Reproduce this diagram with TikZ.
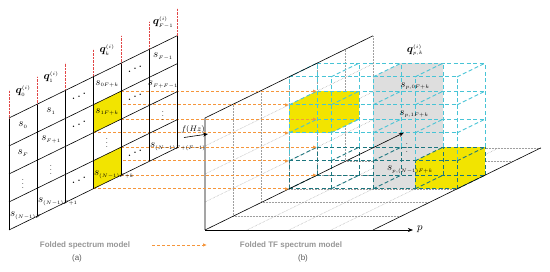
\documentclass[tikz,border=0pt]{standalone}
\usepackage{amsmath}
\usepackage{bm}
\usepackage{fontspec}
\newfontfamily\legfont{Liberation Sans}
\usetikzlibrary{arrows.meta}
\DeclareMathSizes{9}{10.5}{5.2}{4}
\definecolor{latcyan}{RGB}{72,196,214}
\definecolor{latteal}{RGB}{28,118,126}
\definecolor{celly}{RGB}{242,228,0}
\definecolor{boxgray}{RGB}{222,222,222}
\definecolor{foldorange}{RGB}{245,150,60}
\definecolor{leggray}{RGB}{150,150,150}
\definecolor{qred}{RGB}{225,70,70}
\newcommand{\updots}{\textbf{.}\kern2.5pt\raisebox{2.5pt}{\textbf{.}}\kern2.5pt\raisebox{5pt}{\textbf{.}}}
\begin{document}
\begin{tikzpicture}[x=1pt,y=-1pt,
  cellnode/.style={font=\fontsize{9}{10}\selectfont, inner sep=0pt},
  wallline/.style={gray!75, densely dotted, line width=0.5pt},
  latline/.style={latcyan, line width=0.9pt, dash pattern=on 4pt off 2.5pt},
  latdark/.style={latline, latteal},
  foldarrow/.style={foldorange, line width=0.9pt, dash pattern=on 3pt off 2pt, -{Latex[length=4pt,width=3.5pt]}},
  legtext/.style={font=\legfont\bfseries\fontsize{8}{9}\selectfont, text=leggray},
  captext/.style={font=\legfont\fontsize{8}{9}\selectfont, text=black!65}]
\useasboundingbox (0,0) rectangle (550,272);

% corners of the yellow cells in (a) and of the lattice in (b)
\foreach \c in {3,4} \foreach \r in {1,...,4}
  \coordinate (a-\c-\r) at ({9+28*\c},{118-13.7*\c+28*\r});
\foreach \d in {3,4} \foreach \f in {0,...,4}
  \coordinate (b-\f-\d) at ({205+28*\d},{230-13.7*\d-28*\f});

% TF spectrum (b): p to the right, f up, column index into depth
\begin{scope}[shift={(205,230)},x={(42pt,0pt)},y={(0pt,28pt)},z={(28pt,13.7pt)}]
  \coordinate (O) at (0,0,0);
  % wall and floor
  \foreach \d in {1,...,6} \draw[wallline] (0,0,\d) -- (0,4,\d);
  \foreach \f in {1,2,3} \draw[wallline] (0,\f,0) -- (0,\f,6);
  \foreach \d in {1,...,6} \draw[wallline] (0,0,\d) -- (4,0,\d);
  \foreach \p in {1,2,3} \draw[wallline] (\p,0,0) -- (\p,0,6);
  % gray column and yellow boxes
  \fill[boxgray] (2,0,3) -- (2,4,3) -- (2,4,4) -- (3,4,4) -- (3,0,4) -- (3,0,3) -- cycle;
  \fill[celly] (0,2,3) -- (0,3,3) -- (0,3,4) -- (1,3,4) -- (1,2,4) -- (1,2,3) -- cycle;
  \fill[celly] (3,0,3) -- (3,1,3) -- (3,1,4) -- (4,1,4) -- (4,0,4) -- (4,0,3) -- cycle;
  % lattice
  \foreach \d in {3,4} {
    \foreach \f in {0,1} \draw[latdark] (0,\f,\d) -- (4,\f,\d);
    \foreach \f in {2,3,4} \draw[latline] (0,\f,\d) -- (4,\f,\d);
    \foreach \p in {0,...,4} {
      \draw[latdark] (\p,0,\d) -- (\p,1,\d);
      \draw[latline] (\p,1,\d) -- (\p,4,\d);
    }
  }
  \foreach \p in {0,...,4} {
    \foreach \f in {0,1} \draw[latdark] (\p,\f,3) -- (\p,\f,4);
    \foreach \f in {2,3,4} \draw[latline] (\p,\f,3) -- (\p,\f,4);
  }
  % axes
  \draw[line width=0.6pt] (O) -- (0,4,0) -- (0,4,6);
  \draw[line width=0.6pt] (4,0,0) -- (4,0,6);
  \draw[line width=0.6pt, -{Stealth[length=5pt,width=4pt]}] (O) -- (4.95,0,0) coordinate (pend);
  \draw[line width=0.6pt, -{Stealth[length=5pt,width=4pt]}] (O) -- (0,0,7.1) coordinate (dend);
\end{scope}

% folding arrows
\foreach \c in {3,4} \foreach \r/\f in {1/3,2/2,3/1,4/0}
  \draw[foldarrow] (a-\c-\r) -- (b-\f-\c);

% folded spectrum (a): columns to the right, rows down
\begin{scope}[shift={(9,118)},x={(28pt,13.7pt)},y={(0pt,-28pt)}]
  \fill[celly] (3,1) -- (4,1) -- (4,2) -- (3,2) -- cycle;
  \fill[celly] (3,3) -- (4,3) -- (4,4) -- (3,4) -- cycle;
  \foreach \c in {0,...,6} {
    \draw[line width=0.6pt] (\c,0) -- (\c,4);
    \draw[qred, densely dotted] (\c,0) -- (\c,-1);
  }
  \foreach \r in {0,...,4} \draw[line width=0.6pt] (0,\r) -- (6,\r);
  \foreach \c/\t in {0/0,1/1,3/k,5/{F-1}}
    \node[cellnode] (q-\c) at (\c+0.5,-0.72) {$\bm{q}_{\t}^{(i)}$};
  \foreach \c/\r/\t in {0/0/{s_0},1/0/{s_1},3/0/{s_{0F+k}},5/0/{s_{F-1}},
      0/1/{s_F},1/1/{s_{F+1}},3/1/{s_{1F+k}},5/1/{s_{F+F-1}},
      0/2/{\vdots},1/2/{\vdots},3/2/{\vdots},5/2/{\vdots}}
    \node[cellnode] (cell-\c-\r) at (\c+0.5,\r+0.5) {$\t$};
  \foreach \c/\t in {0/{s_{(N-1)F}},1/{s_{(N-1)F+1}},3/{s_{(N-1)F+k}},5/{s_{(N-1)F+(F-1)}}}
    \node[cellnode, anchor=west] (cell-\c-3) at (\c+0.03,3.5) {$\t$};
  \foreach \c in {2,4} \foreach \r in {0,1,3}
    \node[cellnode] (dots-\c-\r) at (\c+0.5,\r+0.45) {\updots};
\end{scope}

% labels of (b)
\node[cellnode] (qpk) at (415,50) {$\bm{q}_{p,k}^{(i)}$};
\node[cellnode] (sp0) at (415,86) {$s_{p,0F+k}$};
\node[cellnode] (sp1) at (414,114) {$s_{p,1F+k}$};
\node[cellnode] (spv) at (407,145) {$\vdots$};
\node[cellnode] (spN) at (410,170) {$s_{p,(N-1)F+k}$};
\node[cellnode, anchor=west] (plabel) at (417,229) {$p$};
\coordinate (fa) at (184,137.5);
\coordinate (fb) at (208,134);
\draw[line width=0.6pt, -{Stealth[length=5pt,width=4pt]}] (fa) -- (fb);
\node[font=\fontsize{8}{9}\selectfont, inner sep=0pt] (flabel) at (193,129.5) {$f(Hz)$};

% legend
\coordinate (legA) at (152,245);
\coordinate (legB) at (207,245);
\draw[foldarrow] (legA) -- (legB);
\node[legtext] (leg-a) at (85,245) {Folded spectrum model};
\node[legtext] (leg-b) at (291,245) {Folded TF spectrum model};
\node[captext] (cap-a) at (77,258) {(a)};
\node[captext] (cap-b) at (303,258) {(b)};
\end{tikzpicture}
\end{document}
